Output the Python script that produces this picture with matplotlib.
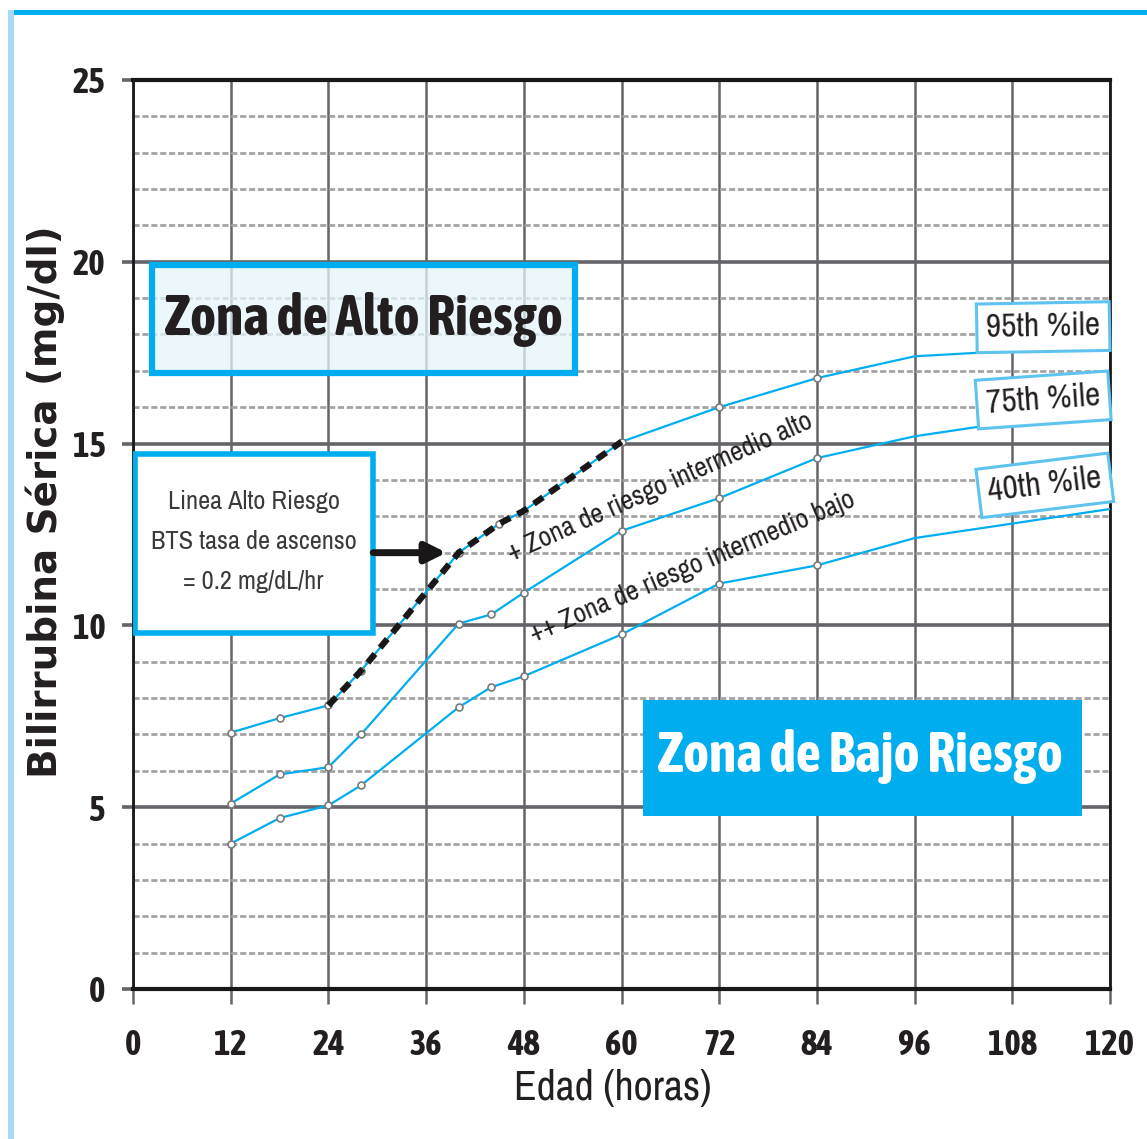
import numpy as np
import matplotlib.pyplot as plt
from matplotlib import font_manager as fm
from matplotlib.patches import Rectangle

# data (hours, mg/dl)
h95 = [12, 18, 24, 28, 40, 45, 48, 60, 72, 84, 96, 108, 120]
p95 = [7.05, 7.45, 7.8, 8.75, 12.0, 12.8, 13.15, 15.05, 16.0, 16.8, 17.4, 17.55, 17.7]
h75 = [12, 18, 24, 28, 40, 44, 48, 60, 72, 84, 96, 108, 120]
p75 = [5.1, 5.9, 6.1, 7.0, 10.05, 10.3, 10.9, 12.6, 13.5, 14.6, 15.2, 15.6, 15.9]
h40 = [12, 18, 24, 28, 40, 44, 48, 60, 72, 84, 96, 108, 120]
p40 = [4.0, 4.7, 5.05, 5.6, 7.75, 8.3, 8.6, 9.75, 11.15, 11.65, 12.4, 12.8, 13.2]

x_ticks = [0, 12, 24, 36, 48, 60, 72, 84, 96, 108, 120]
y_ticks = [0, 5, 10, 15, 20, 25]

BLUE = '#00AEEF'
GRID = '#646469'
WEIGHTS = {'ultralight': 200, 'light': 300, 'normal': 400, 'regular': 400, 'book': 400,
           'medium': 500, 'semibold': 600, 'demibold': 600, 'bold': 700, 'heavy': 800,
           'extra bold': 800, 'black': 900}


# look for a condensed sans font, the chart uses a narrow face
def find_condensed(weight=400):
    good = []
    for f in fm.fontManager.ttflist:
        nm = f.name
        if 'Mono' in nm or 'Serif' in nm or f.style != 'normal':
            continue
        narrow = ('Narrow' in nm or 'Condensed' in nm or
                  str(f.stretch) in ('condensed', 'semi-condensed', 'extra-condensed',
                                     'ultra-condensed') or
                  (isinstance(f.stretch, int) and f.stretch < 500))
        if not narrow:
            continue
        w = f.weight if isinstance(f.weight, int) else WEIGHTS.get(str(f.weight), 400)
        good.append((abs(w - weight), nm, f.fname))
    if not good:
        return fm.FontProperties(family='DejaVu Sans', weight=weight)
    good.sort()
    return fm.FontProperties(fname=good[0][2])


fp = find_condensed(400)
fpb = find_condensed(700)

fig = plt.figure(figsize=(11.47, 11.39), dpi=100)
ax = fig.add_axes([0.116, 0.1317, 0.8517, 0.7981])

# frame around the figure
fig.add_artist(Rectangle((0.0096, 0.9868), 0.9904, 0.0040, transform=fig.transFigure,
                         color=BLUE, lw=0))
fig.add_artist(Rectangle((0.007, 0.0), 0.0052, 0.991, transform=fig.transFigure,
                         color='#A8DAF4', lw=0))

ax.set_xlim(0, 120)
ax.set_ylim(0, 25)
ax.set_xticks(x_ticks)
ax.set_yticks(y_ticks)
ax.set_yticks(np.arange(0, 25, 1), minor=True)

# grid
ax.grid(which='major', axis='x', color=GRID, lw=1.8, zorder=0)
ax.grid(which='major', axis='y', color=GRID, lw=2.6, zorder=0)
ax.grid(which='minor', axis='y', color='#A3A3A3', lw=2.0, linestyle=(0, (2.2, 1.0)), zorder=0)
ax.set_axisbelow(True)

for s in ['left', 'right']:
    ax.spines[s].set_linewidth(2.0)
    ax.spines[s].set_color('#1a1718')
for s in ['top', 'bottom']:
    ax.spines[s].set_linewidth(3.0)
    ax.spines[s].set_color('#1a1718')

ax.tick_params(axis='x', which='major', direction='out', length=11, width=1.8,
               color=GRID, pad=17)
ax.tick_params(axis='y', which='major', direction='out', length=8, width=2.6,
               color=GRID, pad=12)
ax.tick_params(axis='y', which='minor', length=0)
for t in (ax.xaxis.get_major_ticks()[0], ax.xaxis.get_major_ticks()[-1]):
    t.tick1line.set_color('#1a1718')
for lab in ax.get_xticklabels() + ax.get_yticklabels():
    lab.set_fontproperties(fpb)
    lab.set_fontsize(25)
    lab.set_color('#231f20')

ax.set_xlabel('Edad (horas)', fontproperties=fp, fontsize=30, color='#231f20')
ax.xaxis.set_label_coords(0.491, -0.088)
ax.set_ylabel('Bilirrubina Sérica (mg/dl)', fontsize=28, fontweight='bold',
              family=['DejaVu Sans'], color='#231f20')
ax.yaxis.set_label_coords(-0.07, 0.536)

# percentile curves
for hx, py in [(h95, p95), (h75, p75), (h40, p40)]:
    ax.plot(hx, py, color=BLUE, lw=1.6, zorder=3)
    mx = [a for a in hx if a <= 84]
    my = [b for a, b in zip(hx, py) if a <= 84]
    ax.plot(mx, my, 'o', ms=5, mfc='white', mec='#7a7a7a', mew=1.2, zorder=4)

# high risk line (black dashes over the 95th curve from 24 h)
hr_x = [a for a in h95 if 24 <= a <= 60]
hr_y = [b for a, b in zip(h95, p95) if 24 <= a <= 60]
ax.plot(hr_x, hr_y, color='#1a1718', lw=4.5, linestyle=(0, (1.8, 1.3)), zorder=5)

# zone boxes
ax.add_patch(Rectangle((2.3, 16.95), 52.0, 2.95, fc=(0.90, 0.96, 0.99, 0.75), ec=BLUE,
                       lw=4.5, zorder=2))
ax.text(28.3, 18.4, 'Zona de Alto Riesgo', fontproperties=fpb, fontsize=40, ha='center',
        va='center', color='#231f20', zorder=6)

ax.add_patch(Rectangle((62.7, 4.76), 53.9, 3.19, fc=BLUE, ec='none', zorder=2))
ax.text(89.3, 6.4, 'Zona de Bajo Riesgo', fontproperties=fpb, fontsize=40, ha='center',
        va='center', color='white', zorder=6)

ax.add_patch(Rectangle((0.25, 9.8), 29.2, 4.9, fc='white', ec=BLUE, lw=4, zorder=3))
ax.text(14.8, 12.3, 'Linea Alto Riesgo\nBTS tasa de ascenso\n= 0.2 mg/dL/hr',
        fontproperties=fp, fontsize=19, ha='center', va='center', color='#3a3a3a',
        linespacing=1.9, zorder=6)
ax.annotate('', xy=(38.5, 12.0), xytext=(29.5, 12.0),
            arrowprops=dict(arrowstyle='-|>', lw=5, color='#1a1718', mutation_scale=30,
                            shrinkA=0, shrinkB=0), zorder=6)

# zone labels along the curves
ax.text(64.7, 13.8, '+ Zona de riesgo intermedio alto', fontproperties=fp, fontsize=20,
        rotation=24, rotation_mode='anchor', ha='center', va='center', color='#231f20',
        zorder=6)
ax.text(68.7, 11.6, '++ Zona de riesgo intermedio bajo', fontproperties=fp, fontsize=20,
        rotation=23, rotation_mode='anchor', ha='center', va='center', color='#231f20',
        zorder=6)

# percentile tags
for xx, yy, lab, rot in [(111.8, 18.2, '95th %ile', 1), (111.8, 16.2, '75th %ile', 4),
                         (112.0, 13.85, '40th %ile', 7)]:
    ax.text(xx, yy, lab, fontproperties=fp, fontsize=24, ha='center', va='center',
            rotation=rot, rotation_mode='anchor', color='#231f20', zorder=7,
            bbox=dict(boxstyle='square,pad=0.28', fc='white', ec='#5ec3ef', lw=2.2))

fig.savefig('out.png', dpi=100)
